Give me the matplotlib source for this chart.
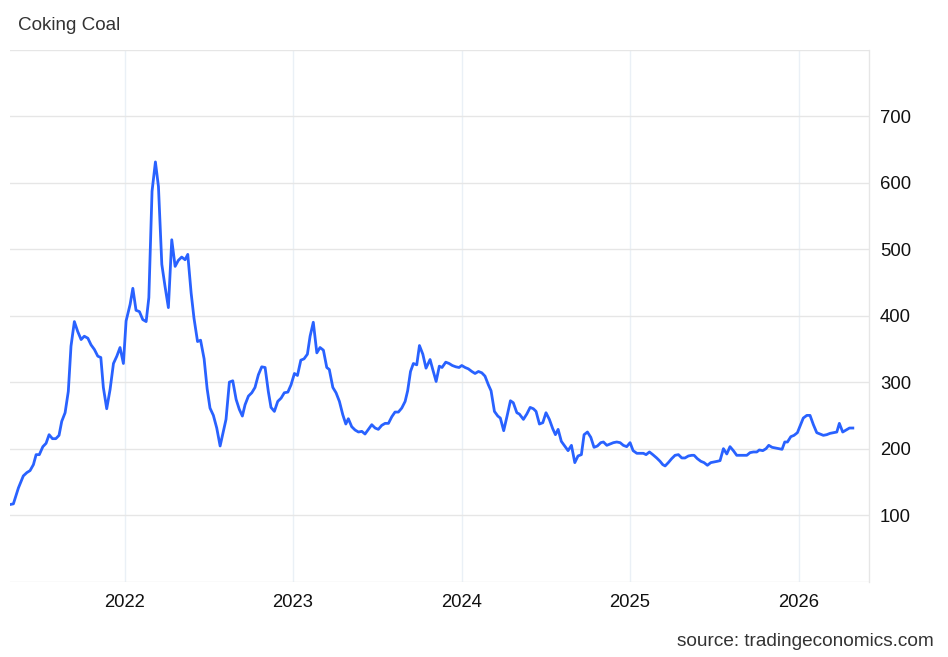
import matplotlib
matplotlib.use("Agg")
import matplotlib.pyplot as plt
from matplotlib.ticker import FixedLocator, FuncFormatter

# time as decimal years, price in USD/t
years = [
    2021.320, 2021.340, 2021.370, 2021.399, 2021.420, 2021.439, 2021.459, 2021.475, 2021.494, 2021.515,
    2021.534, 2021.552, 2021.572, 2021.592, 2021.611, 2021.627, 2021.647, 2021.666, 2021.682, 2021.702,
    2021.722, 2021.742, 2021.761, 2021.782, 2021.801, 2021.821, 2021.841, 2021.859, 2021.874, 2021.894,
    2021.914, 2021.934, 2021.954, 2021.973, 2021.993, 2022.009, 2022.033, 2022.049, 2022.068, 2022.088,
    2022.108, 2022.128, 2022.144, 2022.163, 2022.183, 2022.201, 2022.221, 2022.240, 2022.260, 2022.280,
    2022.300, 2022.319, 2022.339, 2022.359, 2022.375, 2022.395, 2022.412, 2022.433, 2022.451, 2022.472,
    2022.490, 2022.507, 2022.527, 2022.547, 2022.567, 2022.586, 2022.602, 2022.622, 2022.642, 2022.662,
    2022.681, 2022.699, 2022.715, 2022.735, 2022.755, 2022.774, 2022.794, 2022.814, 2022.834, 2022.853,
    2022.869, 2022.889, 2022.909, 2022.929, 2022.948, 2022.969, 2022.988, 2023.008, 2023.026, 2023.046,
    2023.065, 2023.085, 2023.101, 2023.120, 2023.141, 2023.160, 2023.180, 2023.200, 2023.215, 2023.236,
    2023.255, 2023.275, 2023.295, 2023.313, 2023.328, 2023.348, 2023.368, 2023.388, 2023.408, 2023.427,
    2023.447, 2023.467, 2023.487, 2023.506, 2023.526, 2023.546, 2023.566, 2023.586, 2023.605, 2023.625,
    2023.645, 2023.665, 2023.680, 2023.697, 2023.714, 2023.734, 2023.750, 2023.770, 2023.789, 2023.813,
    2023.829, 2023.849, 2023.868, 2023.884, 2023.906, 2023.926, 2023.945, 2023.966, 2023.985, 2024.001,
    2024.021, 2024.040, 2024.061, 2024.080, 2024.100, 2024.120, 2024.139, 2024.159, 2024.175, 2024.195,
    2024.215, 2024.230, 2024.250, 2024.270, 2024.290, 2024.307, 2024.328, 2024.343, 2024.367, 2024.387,
    2024.407, 2024.426, 2024.442, 2024.462, 2024.482, 2024.501, 2024.521, 2024.541, 2024.557, 2024.573,
    2024.592, 2024.612, 2024.632, 2024.652, 2024.672, 2024.691, 2024.711, 2024.727, 2024.747, 2024.767,
    2024.786, 2024.806, 2024.826, 2024.842, 2024.862, 2024.881, 2024.901, 2024.921, 2024.941, 2024.960,
    2024.980, 2025.000, 2025.018, 2025.040, 2025.064, 2025.079, 2025.095, 2025.115, 2025.135, 2025.158,
    2025.178, 2025.194, 2025.208, 2025.227, 2025.247, 2025.267, 2025.287, 2025.307, 2025.326, 2025.346,
    2025.366, 2025.380, 2025.399, 2025.420, 2025.439, 2025.459, 2025.479, 2025.499, 2025.518, 2025.534,
    2025.554, 2025.574, 2025.593, 2025.613, 2025.633, 2025.653, 2025.672, 2025.693, 2025.712, 2025.732,
    2025.752, 2025.767, 2025.788, 2025.807, 2025.823, 2025.843, 2025.862, 2025.882, 2025.902, 2025.918,
    2025.934, 2025.954, 2025.973, 2025.993, 2026.009, 2026.028, 2026.049, 2026.068, 2026.088, 2026.108,
    2026.128, 2026.147, 2026.167, 2026.187, 2026.207, 2026.227, 2026.242, 2026.262, 2026.282, 2026.302,
    2026.322,
]

prices = [
    116, 117, 141, 159, 164, 167, 176, 191, 191, 203,
    208, 221, 215, 215, 220, 241, 254, 286, 354, 391,
    376, 364, 369, 366, 356, 349, 339, 337, 292, 260,
    289, 328, 339, 352, 328, 392, 417, 441, 408, 406,
    394, 391, 427, 587, 631, 594, 477, 444, 412, 514,
    474, 483, 488, 484, 492, 434, 396, 361, 363, 335,
    290, 261, 250, 231, 204, 226, 244, 300, 302, 274,
    259, 249, 266, 279, 284, 292, 311, 323, 322, 286,
    262, 256, 271, 276, 284, 285, 296, 313, 310, 333,
    335, 342, 369, 390, 344, 352, 348, 322, 319, 292,
    284, 271, 251, 237, 245, 233, 228, 225, 226, 222,
    229, 236, 231, 229, 235, 238, 238, 248, 255, 255,
    261, 271, 287, 316, 328, 326, 355, 342, 321, 334,
    319, 301, 324, 322, 330, 328, 325, 323, 322, 325,
    322, 320, 316, 313, 316, 314, 309, 296, 287, 256,
    249, 246, 227, 249, 272, 269, 254, 252, 244, 252,
    262, 260, 256, 237, 239, 254, 244, 230, 221, 229,
    211, 204, 197, 205, 179, 189, 191, 221, 225, 217,
    202, 204, 209, 210, 205, 207, 209, 210, 209, 205,
    203, 209, 197, 193, 193, 193, 191, 195, 191, 186,
    181, 176, 174, 179, 185, 190, 191, 186, 186, 189,
    190, 190, 185, 181, 179, 175, 179, 180, 181, 182,
    200, 192, 203, 197, 190, 190, 190, 190, 194, 195,
    195, 198, 197, 200, 205, 202, 201, 200, 199, 210,
    210, 218, 220, 224, 234, 246, 250, 250, 236, 224,
    222, 220, 221, 223, 224, 225, 238, 225, 228, 231,
    231,
]

year_ticks = [2022, 2023, 2024, 2025, 2026]
year_labels = ["2022", "2023", "2024", "2025", "2026"]
value_ticks = [0, 100, 200, 300, 400, 500, 600, 700, 800]
value_labels = ["", "100", "200", "300", "400", "500", "600", "700", ""]

plt.rcParams["font.family"] = ["Liberation Sans", "DejaVu Sans"]

W, H = 948, 657
fig = plt.figure(figsize=(W / 100, H / 100), dpi=100)
ax = fig.add_axes([10 / W, (H - 581.7) / H, (869 - 10) / W, (581.7 - 49.5) / H])

ax.plot(years, prices, color="#2962FF", lw=2.0, solid_joinstyle="round", zorder=3)

ax.set_xlim(2021.320, 2026.418)
ax.set_ylim(0, 800)

ax.xaxis.set_major_locator(FixedLocator(year_ticks))
ax.set_xticklabels(year_labels)
ax.yaxis.set_major_locator(FixedLocator(value_ticks))
ax.yaxis.set_major_formatter(FuncFormatter(lambda v, p: value_labels[value_ticks.index(int(round(v)))] if int(round(v)) in value_ticks else ""))
ax.yaxis.tick_right()

ax.grid(axis="y", color="#e6e6e6", lw=1.0, zorder=0)
ax.grid(axis="x", color="#eaf0f6", lw=1.0, zorder=0)

for s in ["left", "top", "bottom"]:
    ax.spines[s].set_visible(False)
ax.spines["right"].set_color("#e6e6e6")
ax.spines["right"].set_linewidth(1.0)

ax.tick_params(axis="x", length=0, pad=9, labelsize=13.3, labelcolor="#111111")
ax.tick_params(axis="y", length=0, pad=8, labelsize=13.3, labelcolor="#111111")

fig.text(18 / W, 1 - 25 / H, "Coking Coal", ha="left", va="center", fontsize=13.6, color="#333333")
fig.text(934 / W, 1 - 641 / H, "source: tradingeconomics.com", ha="right", va="center", fontsize=13.7, color="#333333")

fig.savefig("out.png", dpi=100, facecolor="white")
